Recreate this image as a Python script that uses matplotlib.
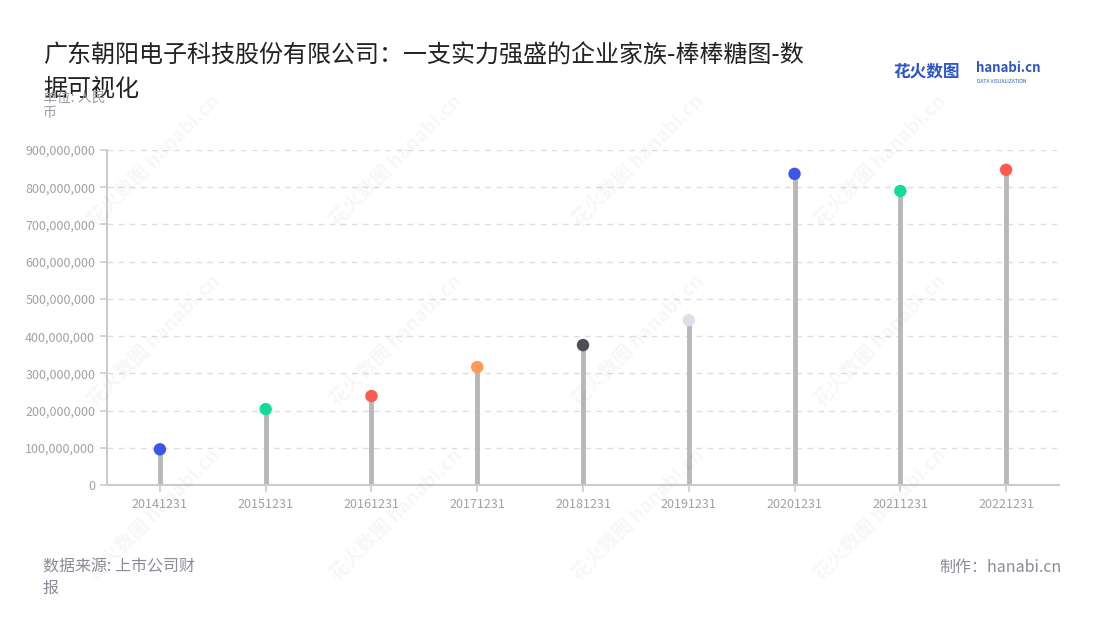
import matplotlib
matplotlib.use("Agg")
import matplotlib.pyplot as plt
from matplotlib.ticker import FuncFormatter

plt.rcParams['font.family'] = ['Noto Sans CJK SC', 'DejaVu Sans']

# 数据
dates = ['20141231', '20151231', '20161231', '20171231', '20181231',
         '20191231', '20201231', '20211231', '20221231']
values = [96e6, 204e6, 239e6, 317e6, 376e6, 443e6, 836e6, 790e6, 847e6]
colors = ['#3a57e8', '#13dc9a', '#ff5a4f', '#ff9a57', '#4d4d58',
          '#dcdfea', '#3a57e8', '#13dc9a', '#ff5a4f']
yticks = [0, 1e8, 2e8, 3e8, 4e8, 5e8, 6e8, 7e8, 8e8, 9e8]

fig = plt.figure(figsize=(11, 6.2), dpi=100)
ax = fig.add_axes([0.0973, 0.2177, 0.8654, 0.5403])

x = list(range(len(dates)))

# 水印
for wx, wy in [(0.14, 0.74), (0.36, 0.74), (0.58, 0.74), (0.80, 0.74),
               (0.14, 0.45), (0.36, 0.45), (0.58, 0.45), (0.80, 0.45),
               (0.36, 0.17), (0.58, 0.17), (0.80, 0.17), (0.14, 0.17)]:
    fig.text(wx, wy, '花火数图 hanabi.cn', rotation=45, fontsize=14,
             color='#000000', alpha=0.035, ha='center', va='center',
             fontweight='bold', zorder=0)

ax.vlines(x, 0, values, color='#b8b8b8', linewidth=3.5, zorder=2)
ax.scatter(x, values, c=colors, s=80, zorder=3, edgecolors='none')

ax.set_xlim(-0.5, len(dates) - 0.5)
ax.set_ylim(0, 9e8)
ax.set_xticks(x)
ax.set_xticklabels(dates)
ax.set_yticks(yticks)
ax.yaxis.set_major_formatter(FuncFormatter(lambda v, p: '{:,.0f}'.format(v)))

ax.grid(axis='y', linestyle=(0, (4, 4)), color='#dddddd', linewidth=1)
ax.set_axisbelow(True)
for s in ['top', 'right']:
    ax.spines[s].set_visible(False)
for s in ['left', 'bottom']:
    ax.spines[s].set_color('#cccccc')
    ax.spines[s].set_linewidth(1.5)
ax.tick_params(axis='both', colors='#cccccc', labelcolor='#a0a0a8',
               labelsize=9, length=5, width=1.2)
ax.tick_params(axis='x', pad=4)

fig.text(0.039, 0.91, '广东朝阳电子科技股份有限公司：一支实力强盛的企业家族-棒棒糖图-数',
         fontsize=17.3, color='#222222', va='center')
fig.text(0.039, 0.857, '据可视化', fontsize=17.3, color='#222222', va='center')
fig.text(0.039, 0.843, '单位: 人民', fontsize=10, color='#9a9aa8', va='center')
fig.text(0.039, 0.817, '币', fontsize=10, color='#9a9aa8', va='center')

fig.text(0.039, 0.085, '数据来源: 上市公司财', fontsize=11.5, color='#8a8a98', va='center')
fig.text(0.039, 0.051, '报', fontsize=11.5, color='#8a8a98', va='center')
fig.text(0.965, 0.085, '制作：hanabi.cn', fontsize=11.5, color='#8a8a98',
         va='center', ha='right')

# 标志
fig.text(0.812, 0.884, '花火数图', fontsize=12, color='#2c55c8',
         fontweight='bold', va='center')
fig.text(0.887, 0.890, 'hanabi.cn', fontsize=9.5, color='#2c55c8',
         fontweight='bold', va='center')
fig.text(0.888, 0.869, 'DATA VISUALIZATION', fontsize=3.6, color='#2c55c8',
         va='center')

fig.savefig('out.png', dpi=100)
